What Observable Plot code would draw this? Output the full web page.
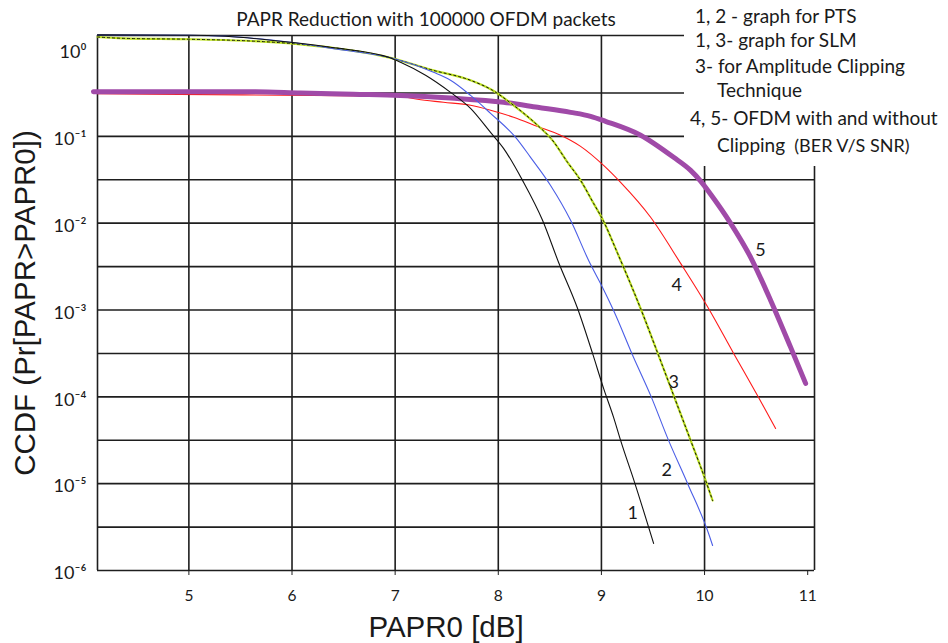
<!DOCTYPE html>
<html><head><meta charset="utf-8">
<script src="https://cdn.jsdelivr.net/npm/d3@7"></script>
<script src="https://cdn.jsdelivr.net/npm/@observablehq/plot@0.6"></script>
<style>
body{margin:0;background:#fff;}
#wrap{position:relative;width:948px;height:643px;overflow:hidden;background:#fff;}
.cover{position:absolute;background:#fff;}
#legend{position:absolute;left:684px;top:0;width:264px;height:166px;font-family:Lato,"Noto Sans",sans-serif;font-size:19px;color:#1a1a1a;}
#legend div{position:absolute;white-space:nowrap;line-height:19px;}
#legend span.small{font-size:18px;}
</style></head><body>
<div id="wrap"><div id="chart"></div>
<div class="cover" style="left:684px;top:0;width:264px;height:140px;"></div>
<div class="cover" style="left:700px;top:140px;width:248px;height:26px;"></div>
<div id="legend"></div></div>
<script>
// ---- data ----
const titleText = "PAPR Reduction with 100000 OFDM packets";
const xLabel = "PAPR0 [dB]";
const yLabel = "CCDF (Pr[PAPR>PAPR0])";

const xDomain = [4.114, 11.066];
const xTicks = [5, 6, 7, 8, 9, 10, 11];
const xGrid = [5, 6, 7, 8, 9, 10];
const yDomain = [1e-6, 1.45];
const yTicks = [1e-6, 1e-5, 1e-4, 1e-3, 1e-2, 1e-1, 1];
const yTickLabels = ["10⁻⁶", "10⁻⁵", "10⁻⁴", "10⁻³", "10⁻²", "10⁻¹", "10⁰"];
const yGrid = [1e-6, 3.16e-6, 1e-5, 3.16e-5, 1e-4, 3.16e-4, 1e-3, 3.16e-3, 1e-2, 3.16e-2, 1e-1, 3.16e-1, 1.45];

// curve 1 (PTS, black)
const curve1X = [4.114,5.016,5.355,5.985,6.373,6.936,7.052,7.295,7.537,7.731,7.925,8.051,8.235,8.429,8.585,8.769,8.914,9.021,9.118,9.186,9.322,9.506];
const curve1Y = [1.476,1.459,1.419,1.211,1.060,0.813,0.713,0.505,0.321,0.210,0.111,0.0728,0.0311,0.0108,0.00353,0.00104,3.16e-4,1.25e-4,5.80e-5,3.15e-5,1.03e-5,2.05e-6];
// curve 2 (blue)
const curve2X = [4.114,5.016,5.374,5.985,6.441,6.936,7.372,7.537,7.731,7.925,8.168,8.313,8.507,8.701,8.876,9.011,9.118,9.312,9.477,9.651,9.836,10.039,10.078];
const curve2Y = [1.476,1.459,1.419,1.211,1.005,0.813,0.546,0.442,0.296,0.184,0.0973,0.0573,0.0272,0.0108,0.00372,0.00182,9.88e-4,2.84e-4,1.04e-4,3.15e-5,1.00e-5,2.67e-6,1.94e-6];
// curve 3 (green, dotted black overlay)
const curve3X = [4.114,4.356,5.016,5.597,6.082,6.936,7.372,7.731,7.944,8.148,8.381,8.526,8.672,8.798,8.924,9.011,9.157,9.380,9.554,9.700,9.865,10.010,10.078];
const curve3Y = [1.393,1.346,1.312,1.254,1.148,0.813,0.575,0.442,0.339,0.228,0.134,0.0899,0.0501,0.0311,0.0169,0.0111,0.00449,0.00104,3.00e-4,1.04e-4,3.15e-5,1.09e-5,6.40e-6];
// curve 4 (red)
const curve4X = [4.114,4.608,7.033,7.217,7.469,7.731,7.925,8.148,8.381,8.604,8.798,9.021,9.186,9.477,9.768,10.039,10.282,10.524,10.689];
const curve4Y = [0.309,0.305,0.289,0.267,0.247,0.228,0.200,0.166,0.130,0.103,0.0767,0.0463,0.0295,0.0117,0.00344,0.00104,3.16e-4,9.84e-5,4.33e-5];
// curve 5 (purple, thick)
const curve5X = [4.075,5.646,6.082,6.596,7.052,7.537,8.051,8.381,8.701,8.895,9.040,9.380,9.700,9.865,9.962,10.059,10.253,10.447,10.641,10.835,10.980];
const curve5Y = [0.327,0.326,0.315,0.305,0.296,0.276,0.247,0.216,0.189,0.170,0.149,0.103,0.0573,0.0405,0.0305,0.0215,0.00995,0.00404,0.00129,3.71e-4,1.43e-4];

const curveLabels = ["1", "2", "3", "4", "5"];
const curveLabelX = [9.303, 9.633, 9.700, 9.729, 10.543];
const curveLabelY = [4.54e-6, 1.42e-5, 1.47e-4, 1.92e-3, 4.86e-3];

const legendLines = [
  "1, 2 - graph for PTS",
  "1, 3- graph for SLM",
  "3- for Amplitude Clipping",
  "Technique",
  "4, 5- OFDM with and without",
  "Clipping"
];
const legendNote = "(BER V/S SNR)";

// ---- build ----
const toRows = (xs, ys) => xs.map((x, i) => ({x, y: ys[i]}));
const c1 = toRows(curve1X, curve1Y);
const c2 = toRows(curve2X, curve2Y);
const c3 = toRows(curve3X, curve3Y);
const c4 = toRows(curve4X, curve4Y);
const c5 = toRows(curve5X, curve5Y);
const labels = curveLabels.map((t, i) => ({t, x: curveLabelX[i], y: curveLabelY[i]}));
const fontTick = "Lato, 'Noto Sans', sans-serif";
const fontAxis = "'Liberation Sans', Arial, sans-serif";

const chart = Plot.plot({
  width: 948,
  height: 643,
  marginLeft: 97,
  marginRight: 134,
  marginTop: 35,
  marginBottom: 73,
  style: {background: "#fff", color: "#1a1a1a", fontFamily: fontTick},
  x: {domain: xDomain},
  y: {type: "log", domain: yDomain},
  marks: [
    Plot.ruleY(yGrid, {stroke: "#1e1e1e", strokeWidth: 1.6}),
    Plot.ruleX(xGrid, {stroke: "#1e1e1e", strokeWidth: 1.6}),
    Plot.ruleX(xDomain, {stroke: "#1e1e1e", strokeWidth: 1.6}),
    Plot.axisX({ticks: xTicks, tickFormat: (d) => String(d), tickSize: 5, tickPadding: 14, fontSize: 15.5, label: null, stroke: "#1e1e1e", fontFamily: fontTick}),
    Plot.axisY({ticks: yTicks, tickFormat: (d) => yTickLabels[yTicks.indexOf(d)], tickSize: 0, tickPadding: 11, fontSize: 18, label: null, dy: 3, fontFamily: fontTick}),
    Plot.line(c4, {x: "x", y: "y", stroke: "#ff1a1a", strokeWidth: 1.1, curve: "monotone-x"}),
    Plot.line(c5, {x: "x", y: "y", stroke: "#a04aa8", strokeWidth: 5, curve: "monotone-x"}),
    Plot.line(c3, {x: "x", y: "y", stroke: "#bde21f", strokeWidth: 2.2, curve: "monotone-x"}),
    Plot.line(c3, {x: "x", y: "y", stroke: "#111", strokeWidth: 1, strokeDasharray: "2,3", curve: "monotone-x"}),
    Plot.line(c2, {x: "x", y: "y", stroke: "#4b5ee6", strokeWidth: 1.1, curve: "monotone-x"}),
    Plot.line(c1, {x: "x", y: "y", stroke: "#111", strokeWidth: 1.1, curve: "monotone-x"}),
    Plot.text(labels, {x: "x", y: "y", text: "t", fontSize: 18, fill: "#1a1a1a", fontFamily: fontTick}),
    Plot.text([titleText], {frameAnchor: "top", lineAnchor: "middle", dx: -30, dy: -16, fontSize: 19, fill: "#1a1a1a", fontFamily: fontTick}),
    Plot.text([xLabel], {frameAnchor: "bottom", lineAnchor: "middle", dx: -10, dy: 57, fontSize: 29.5, fill: "#1a1a1a", fontFamily: fontAxis}),
    Plot.text([yLabel], {frameAnchor: "left", textAnchor: "middle", lineAnchor: "middle", rotate: -90, dx: -72, fontSize: 29.5, fill: "#1a1a1a", fontFamily: fontAxis})
  ]
});
document.getElementById("chart").appendChild(chart);

// legend text block in the top-right corner
const legendPos = [[11, 6], [11, 30], [11, 56], [33, 80], [6, 108], [33, 135]];
const lg = document.getElementById("legend");
legendLines.forEach((t, i) => {
  const d = document.createElement("div");
  d.style.left = legendPos[i][0] + "px";
  d.style.top = legendPos[i][1] + "px";
  d.textContent = t;
  if (i === legendLines.length - 1) {
    const s = document.createElement("span");
    s.className = "small";
    s.textContent = "\u00a0\u00a0" + legendNote;
    d.appendChild(s);
  }
  lg.appendChild(d);
});
</script>
</body></html>
